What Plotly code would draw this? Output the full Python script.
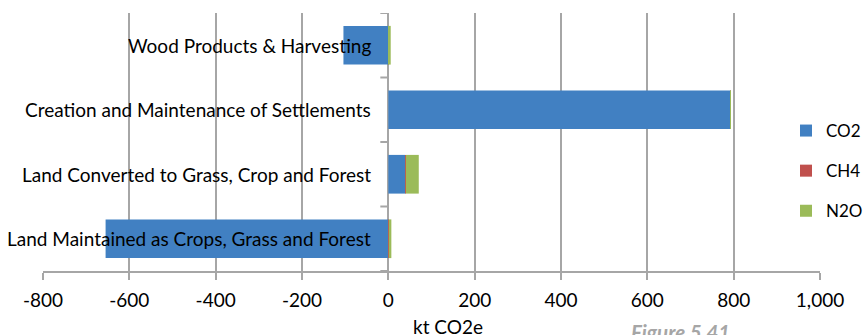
import plotly.graph_objects as go

categories = [
    "Land Maintained as Crops, Grass and Forest",
    "Land Converted to Grass, Crop and Forest",
    "Creation and Maintenance of Settlements",
    "Wood Products & Harvesting",
]
co2 = [-655, 40, 793, -104]
ch4 = [1, 0.5, 0.3, 1.5]
n2o = [6, 30, 0.5, 4]
x_ticks = [-800, -600, -400, -200, 0, 200, 400, 600, 800, 1000]
x_tick_labels = ["-800", "-600", "-400", "-200", "0", "200", "400", "600", "800", "1,000"]
x_title = "kt CO2e"
figure_label = "Figure 5.41"

FONT = "Lato"
GRID = "#A6A6A6"
SIZE = 19

fig = go.Figure()
fig.add_trace(go.Bar(y=categories, x=co2, orientation="h", name="CO2", legendgroup="a",
                     marker=dict(color="#4180C2", line=dict(width=0))))
fig.add_trace(go.Bar(y=categories, x=ch4, orientation="h", name="CH4", legendgroup="b",
                     marker=dict(color="#C0504D", line=dict(width=0))))
fig.add_trace(go.Bar(y=categories, x=n2o, orientation="h", name="N2O", legendgroup="c",
                     marker=dict(color="#9BBB59", line=dict(width=0))))

annotations = []
for i, c in enumerate(categories):
    annotations.append(dict(x=0, y=i, xref="x", yref="y", text=c, showarrow=False,
                            xanchor="right", yanchor="middle", xshift=-15,
                            font=dict(family=FONT, size=19, color="#000000")))
annotations.append(dict(x=(448 - 43) / 777, y=0, xref="paper", yref="paper", text=x_title, showarrow=False,
                        xanchor="center", yanchor="middle", yshift=-55,
                        font=dict(family=FONT, size=SIZE, color="#000000")))
annotations.append(dict(x=(680 - 43) / 777, y=0, xref="paper", yref="paper", text="<b><i>" + figure_label + "</i></b>",
                        showarrow=False, xanchor="center", yanchor="middle", yshift=-61,
                        font=dict(family=FONT, size=20.5, color="#A6A6A6")))

shapes = []
for b in [-0.5, 0.5, 1.5, 2.5, 3.5]:
    shapes.append(dict(type="line", xref="x", yref="y", xsizemode="pixel", xanchor=0,
                       x0=-8, x1=0, y0=b, y1=b, line=dict(color=GRID, width=2)))

fig.update_layout(
    width=864, height=335,
    margin=dict(l=43, r=44, t=13, b=64, autoexpand=False),
    paper_bgcolor="white", plot_bgcolor="white",
    barmode="relative", bargap=0.40,
    font=dict(family=FONT, size=SIZE, color="#000000"),
    showlegend=True,
    legend=dict(x=(786 - 43) / 777, y=(271 - 171) / 258, xanchor="left", yanchor="middle",
                font=dict(family=FONT, size=17), bgcolor="rgba(0,0,0,0)",
                tracegroupgap=15, traceorder="grouped", itemwidth=30),
    annotations=annotations, shapes=shapes,
)
fig.update_xaxes(range=[-800, 1000], tickvals=x_ticks, ticktext=x_tick_labels, showgrid=True, gridcolor=GRID, gridwidth=2,
                 zeroline=True, zerolinecolor=GRID, zerolinewidth=2, automargin=False,
                 showline=True, linecolor=GRID, linewidth=2, ticks="outside", ticklen=7, tickcolor=GRID, tickwidth=2,
                 ticklabelstandoff=4,
                 tickfont=dict(family=FONT, size=SIZE, color="#000000"))
fig.update_yaxes(showticklabels=False, showgrid=False, zeroline=False, showline=False, range=[-0.5, 3.5], automargin=False)

fig.write_html("out.html", config={"displayModeBar": False},
               post_script="document.body.style.margin='0';")
